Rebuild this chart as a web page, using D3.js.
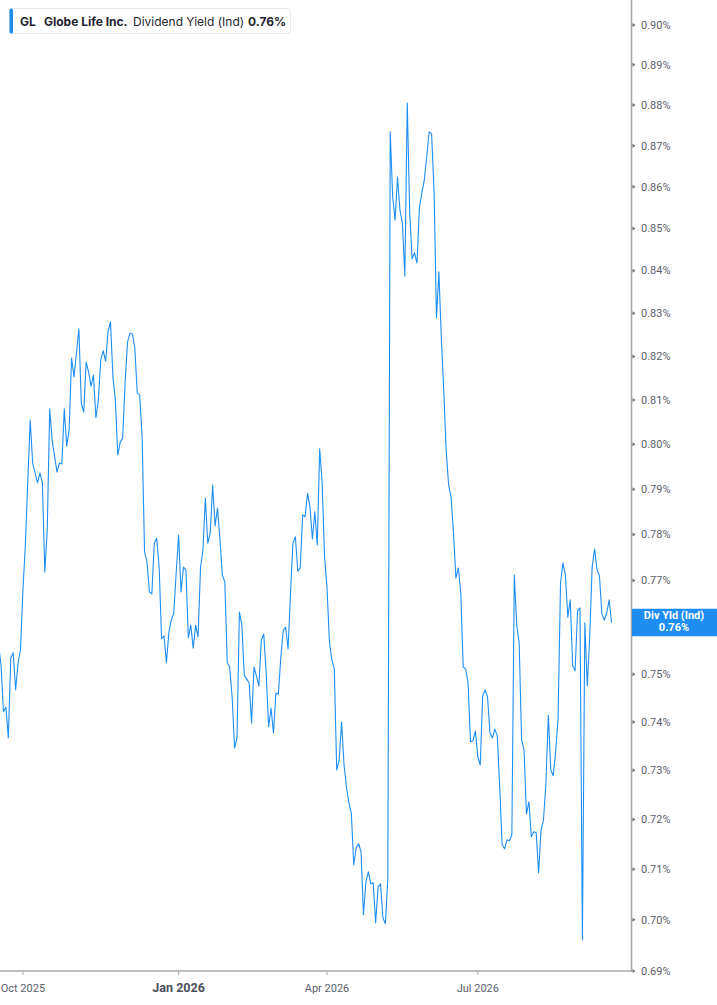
<!DOCTYPE html>
<html>
<head>
<meta charset="utf-8">
<script src="https://cdn.jsdelivr.net/npm/d3@7/dist/d3.min.js"></script>
<style>
  html, body { margin: 0; padding: 0; background: #fff; }
  svg { display: block; }
</style>
</head>
<body>
<svg id="chart" width="717" height="1005"></svg>
<script>
// ---------------- DATA ----------------
const ticker = "GL";
const company = "Globe Life Inc.";
const metric = "Dividend Yield (Ind)";
const badgeName = "Div Yld (Ind)";
const startDate = "2025-09-17";
const marketHolidays = ["2025-11-27","2025-12-25","2026-01-01","2026-01-19","2026-02-16",
                        "2026-04-03","2026-05-25","2026-06-19","2026-07-03","2026-09-07"];
// daily dividend yield (%), one value per trading day from 2025-09-17
const yields = [
  0.7562,0.7519,0.7421,0.7431,0.7367,0.7534,0.7545,0.7467,0.7524,0.7551,
  0.7679,0.7777,0.7920,0.8055,0.7958,0.7936,0.7914,0.7936,0.7914,0.7718,
  0.7810,0.8080,0.8010,0.7974,0.7938,0.7958,0.7956,0.8080,0.7996,0.8033,
  0.8196,0.8153,0.8208,0.8264,0.8093,0.8073,0.8187,0.8164,0.8132,0.8157,
  0.8060,0.8100,0.8192,0.8213,0.8189,0.8257,0.8280,0.8153,0.8100,0.7976,
  0.8005,0.8014,0.8139,0.8233,0.8254,0.8252,0.8219,0.8116,0.8112,0.8017,
  0.7762,0.7740,0.7675,0.7671,0.7781,0.7792,0.7729,0.7575,0.7581,0.7524,
  0.7589,0.7615,0.7630,0.7716,0.7799,0.7675,0.7729,0.7723,0.7577,0.7604,
  0.7555,0.7604,0.7579,0.7727,0.7766,0.7880,0.7781,0.7803,0.7909,0.7819,
  0.7858,0.7788,0.7712,0.7697,0.7524,0.7515,0.7452,0.7346,0.7367,0.7632,
  0.7604,0.7498,0.7490,0.7481,0.7398,0.7515,0.7496,0.7475,0.7572,0.7585,
  0.7502,0.7390,0.7429,0.7377,0.7460,0.7458,0.7534,0.7592,0.7600,0.7553,
  0.7673,0.7781,0.7795,0.7720,0.7727,0.7843,0.7839,0.7891,0.7861,0.7790,
  0.7850,0.7777,0.7990,0.7914,0.7751,0.7686,0.7568,0.7530,0.7511,0.7301,
  0.7321,0.7400,0.7311,0.7266,0.7234,0.7213,0.7109,0.7143,0.7151,0.7135,
  0.7010,0.7075,0.7095,0.7071,0.7073,0.6994,0.7065,0.7071,0.7004,0.6992,
  0.7079,0.8734,0.8576,0.8520,0.8624,0.8544,0.8513,0.8387,0.8805,0.8537,
  0.8428,0.8442,0.8418,0.8552,0.8585,0.8617,0.8673,0.8734,0.8729,0.8593,
  0.8289,0.8397,0.8243,0.8121,0.7987,0.7909,0.7883,0.7803,0.7705,0.7727,
  0.7673,0.7515,0.7511,0.7481,0.7359,0.7361,0.7381,0.7328,0.7311,0.7454,
  0.7467,0.7452,0.7377,0.7367,0.7385,0.7371,0.7266,0.7149,0.7141,0.7159,
  0.7157,0.7169,0.7712,0.7604,0.7566,0.7363,0.7342,0.7211,0.7236,0.7165,
  0.7175,0.7173,0.7093,0.7179,0.7199,0.7274,0.7414,0.7301,0.7289,0.7338,
  0.7408,0.7694,0.7738,0.7712,0.7621,0.7658,0.7517,0.7507,0.7634,0.7641,
  0.6961,0.7609,0.7475,0.7579,0.7729,0.7768,0.7723,0.7710,0.7628,0.7615,
  0.7630,0.7658,0.7609
];
const xTickDates  = ["2025-10-01","2026-01-02","2026-04-01","2026-07-01"];
const xTickLabels = ["Oct 2025","Jan 2026","Apr 2026","Jul 2026"];
const xTickBold   = [false, true, false, false];
const yTickValues = [0.69,0.70,0.71,0.72,0.73,0.74,0.75,0.76,0.77,0.78,0.79,
                     0.80,0.81,0.82,0.83,0.84,0.85,0.86,0.87,0.88,0.89,0.90];

// ---------------- TRADING CALENDAR ----------------
const fmtDay = d3.utcFormat("%Y-%m-%d");
const holidaySet = new Set(marketHolidays);
const dates = [];
let cur = d3.utcParse("%Y-%m-%d")(startDate);
while (dates.length < yields.length) {
  const wd = cur.getUTCDay();
  if (wd !== 0 && wd !== 6 && !holidaySet.has(fmtDay(cur))) dates.push(fmtDay(cur));
  cur = d3.utcDay.offset(cur, 1);
}
const data = yields.map((v, i) => ({ i, date: dates[i], v }));

// ---------------- LAYOUT ----------------
const W = 717, H = 1005;
const plotRight = 631.5, plotBottom = 971, plotTop = 0;
const blue = "#1e8ef5";
const svg = d3.select("#chart");

const x = d3.scaleLinear().domain([0, yields.length - 1]).range([-1.4, 611.6]);
const y = d3.scaleLog().domain([0.69, 0.90]).range([plotBottom, 25]);

svg.append("defs").append("clipPath").attr("id", "plotclip")
  .append("rect").attr("x", 0).attr("y", 0).attr("width", plotRight).attr("height", plotBottom);

// line
const line = d3.line().x(d => x(d.i)).y(d => y(d.v));
svg.append("path")
  .datum(data)
  .attr("clip-path", "url(#plotclip)")
  .attr("fill", "none")
  .attr("stroke", blue)
  .attr("stroke-width", 1.1)
  .attr("stroke-linejoin", "round")
  .attr("d", line);

// bottom axis
svg.append("line")
  .attr("x1", 0).attr("x2", plotRight)
  .attr("y1", plotBottom).attr("y2", plotBottom)
  .attr("stroke", "#a9a9a9").attr("stroke-width", 1.5);

xTickDates.forEach((ds, k) => {
  const idx = dates.indexOf(ds);
  const xp = x(idx);
  svg.append("line")
    .attr("x1", xp).attr("x2", xp)
    .attr("y1", plotBottom).attr("y2", plotBottom + 4)
    .attr("stroke", "#a9a9a9").attr("stroke-width", 1);
  svg.append("text")
    .attr("x", xp).attr("y", 992)
    .attr("text-anchor", "middle")
    .attr("font-family", "Roboto, 'Open Sans', sans-serif")
    .attr("font-size", xTickBold[k] ? 12.5 : 11)
    .attr("font-weight", xTickBold[k] ? "bold" : "normal")
    .attr("fill", xTickBold[k] ? "#4a4f5a" : "#5b606b")
    .text(xTickLabels[k]);
});

// right axis
svg.append("line")
  .attr("x1", plotRight).attr("x2", plotRight)
  .attr("y1", plotTop).attr("y2", plotBottom + 1)
  .attr("stroke", "#a9a9a9").attr("stroke-width", 1.6);

const last = data[data.length - 1];
const ly = y(last.v);
const badgeTop = ly - 14, badgeH = 27.5;

const fmtPct = d3.format(".2f");
yTickValues.forEach(v => {
  const yp = y(v);
  svg.append("path")
    .attr("d", `M${plotRight + 1},${yp - 2} L${plotRight + 4},${yp} L${plotRight + 1},${yp + 2} Z`)
    .attr("fill", "#6b6f78");
  // the label hidden beneath the last-value badge is not drawn
  if (yp > badgeTop - 4 && yp < badgeTop + badgeH + 4) return;
  svg.append("text")
    .attr("x", 641).attr("y", yp)
    .attr("dy", "0.35em")
    .attr("font-family", "Roboto, 'Open Sans', sans-serif")
    .attr("font-size", 11)
    .attr("fill", "#5b606b")
    .text(fmtPct(v) + "%");
});

// last value badge
const badge = svg.append("g");
badge.append("rect")
  .attr("x", plotRight + 0.5).attr("y", badgeTop)
  .attr("width", W - plotRight).attr("height", badgeH)
  .attr("fill", blue);
badge.append("text")
  .attr("x", 674).attr("y", ly - 4)
  .attr("text-anchor", "middle")
  .attr("font-family", "Roboto, 'Open Sans', sans-serif")
  .attr("font-size", 11).attr("font-weight", "bold")
  .attr("fill", "#fff")
  .text(badgeName);
badge.append("text")
  .attr("x", 674).attr("y", ly + 8)
  .attr("text-anchor", "middle")
  .attr("font-family", "Roboto, 'Open Sans', sans-serif")
  .attr("font-size", 11).attr("font-weight", "bold")
  .attr("fill", "#fff")
  .text(fmtPct(last.v) + "%");

// legend
const lg = svg.append("g");
lg.append("rect")
  .attr("x", 9.5).attr("y", 8.5).attr("width", 281).attr("height", 25)
  .attr("rx", 3).attr("fill", "#fff")
  .attr("stroke", "#e6e8ec").attr("stroke-width", 1);
lg.append("rect")
  .attr("x", 9.5).attr("y", 8.5).attr("width", 3.5).attr("height", 25)
  .attr("rx", 1.5).attr("fill", blue);
const legText = lg.append("text")
  .attr("x", 20).attr("y", 25.5)
  .attr("font-family", "Inter, 'Noto Sans', sans-serif")
  .attr("font-size", 12)
  .attr("fill", "#1f2430");
legText.append("tspan").attr("font-weight", "bold").text(ticker);
legText.append("tspan").attr("x", 44).attr("font-weight", "bold").text(company);
legText.append("tspan").attr("x", 133).attr("font-weight", "normal").text(metric);
legText.append("tspan").attr("x", 248).attr("font-weight", "bold").text(fmtPct(last.v) + "%");
</script>
</body>
</html>
